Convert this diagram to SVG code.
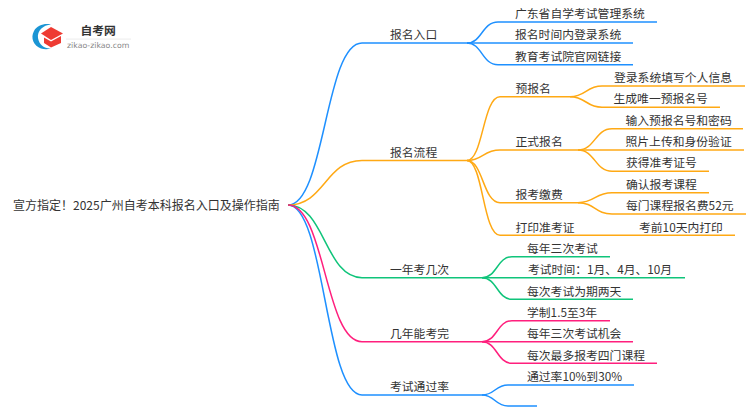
<svg xmlns="http://www.w3.org/2000/svg" width="750" height="410" viewBox="0 0 750 410">
<style>
text{font-family:"Noto Sans CJK SC","Noto Sans",sans-serif;font-size:11.8px;fill:#333}
.c path{fill:none;stroke-width:1.5}
.b path{stroke:#1e90ff}.o path{stroke:#ffa914}.g path{stroke:#0fc47a}.p path{stroke:#ff1f7d}
</style>
<g id="connectors" class="c">
<g class="b">
<path d="M288 205C325 205 325 43 362 43L467 43"/>
<path d="M467 43C482 43 482 22 498 22L657 22"/>
<path d="M467 43L633 43"/>
<path d="M467 43C482 43 482 64.700 498 64.700L633 64.700"/>
<path d="M288 205C325 205 325 395 362 395L482 395"/>
<path d="M482 395C495 395 495 385 508 385L634 385"/>
<path d="M482 395C495 395 495 406 508 406L537 406"/>
</g>
<g class="o">
<path d="M288 205C325 205 325 160.500 362 160.500L467 160.500"/>
<path d="M467 160.500C483 160.500 483 96.700 500 96.700L570 96.700"/>
<path d="M570 96.700C586 96.700 586 86 602 86L745 86"/>
<path d="M570 96.700C586 96.700 586 107.300 602 107.300L720 107.300"/>
<path d="M467 160.500C483 160.500 483 150 500 150L578 150"/>
<path d="M578 150C595 150 595 128.700 612 128.700L743 128.700"/>
<path d="M578 150L744 150"/>
<path d="M578 150C595 150 595 171.300 612 171.300L709 171.300"/>
<path d="M467 160.500C483 160.500 483 202.700 500 202.700L578 202.700"/>
<path d="M578 202.700C595 202.700 595 192.700 612 192.700L709 192.700"/>
<path d="M578 202.700C595 202.700 595 214 612 214L746 214"/>
<path d="M467 160.500C483 160.500 483 235.300 500 235.300L735 235.300"/>
</g>
<g class="g">
<path d="M288 205C325 205 325 277.700 362 277.700L482 277.700"/>
<path d="M482 277.700C497 277.700 497 256.700 512 256.700L610 256.700"/>
<path d="M482 277.700L685 277.700"/>
<path d="M482 277.700C497 277.700 497 299.300 512 299.300L633 299.300"/>
</g>
<g class="p">
<path d="M288 205C325 205 325 341.700 362 341.700L482 341.700"/>
<path d="M482 341.700C497 341.700 497 320.700 512 320.700L610 320.700"/>
<path d="M482 341.700L633 341.700"/>
<path d="M482 341.700C497 341.700 497 363.300 512 363.300L657 363.300"/>
</g>
</g>
<g id="logo">
<path d="M51 24.500C45 23 37 25 34 31C30 38 34 46 41 48.500C44 49.500 48 49.500 51 48.500C45 49 39 45 38 38C37 31 43 25 51 24.500Z" fill="#1b95d4"/>
<path d="M51 27L63 33.500L51 40L41 33.500Z" fill="#ee3b33"/>
<path d="M44 37.500L51 41.500L61 36V43L51 47.500L44 43Z" fill="#ee3b33"/>
<rect x="66" y="38.700" width="65" height="0.700" fill="#e4e4e4"/>
<text x="80.500" y="35" style="font-size:11.800px;font-weight:700;fill:#333">自考网</text>
<text x="67" y="47.500" style="font-family:'DejaVu Sans',sans-serif;font-size:7.800px;fill:#888">zikao-zikao.com</text>
</g>
<g id="root"><text x="13" y="210" style="font-size:12px">宣方指定！2025广州自考本科报名入口及操作指南</text></g>
<g id="n1"><text x="390" y="39">报名入口</text></g>
<g id="n1a"><text x="515" y="18">广东省自学考试管理系统</text></g>
<g id="n1b"><text x="515" y="39">报名时间内登录系统</text></g>
<g id="n1c"><text x="515" y="61">教育考试院官网链接</text></g>
<g id="n2"><text x="390" y="157">报名流程</text></g>
<g id="n2a"><text x="515.500" y="93">预报名</text></g>
<g id="n2a1"><text x="614" y="82">登录系统填写个人信息</text></g>
<g id="n2a2"><text x="613.500" y="103">生成唯一预报名号</text></g>
<g id="n2b"><text x="515.500" y="146">正式报名</text></g>
<g id="n2b1"><text x="625.500" y="125">输入预报名号和密码</text></g>
<g id="n2b2"><text x="625.500" y="146">照片上传和身份验证</text></g>
<g id="n2b3"><text x="626" y="167">获得准考证号</text></g>
<g id="n2c"><text x="515.500" y="199">报考缴费</text></g>
<g id="n2c1"><text x="626" y="189">确认报考课程</text></g>
<g id="n2c2"><text x="626" y="210">每门课程报名费52元</text></g>
<g id="n2d"><text x="515.500" y="231.500">打印准考证</text></g>
<g id="n2d1"><text x="639" y="231.500">考前10天内打印</text></g>
<g id="n3"><text x="390" y="274">一年考几次</text></g>
<g id="n3a"><text x="527" y="252.500">每年三次考试</text></g>
<g id="n3b"><text x="528" y="274">考试时间：1月、4月、10月</text></g>
<g id="n3c"><text x="527" y="295.500">每次考试为期两天</text></g>
<g id="n4"><text x="390" y="338">几年能考完</text></g>
<g id="n4a"><text x="527" y="316.500">学制1.5至3年</text></g>
<g id="n4b"><text x="527" y="338">每年三次考试机会</text></g>
<g id="n4c"><text x="527" y="359.500">每次最多报考四门课程</text></g>
<g id="n5"><text x="390" y="391">考试通过率</text></g>
<g id="n5a"><text x="527" y="380.500">通过率10%到30%</text></g>
</svg>
